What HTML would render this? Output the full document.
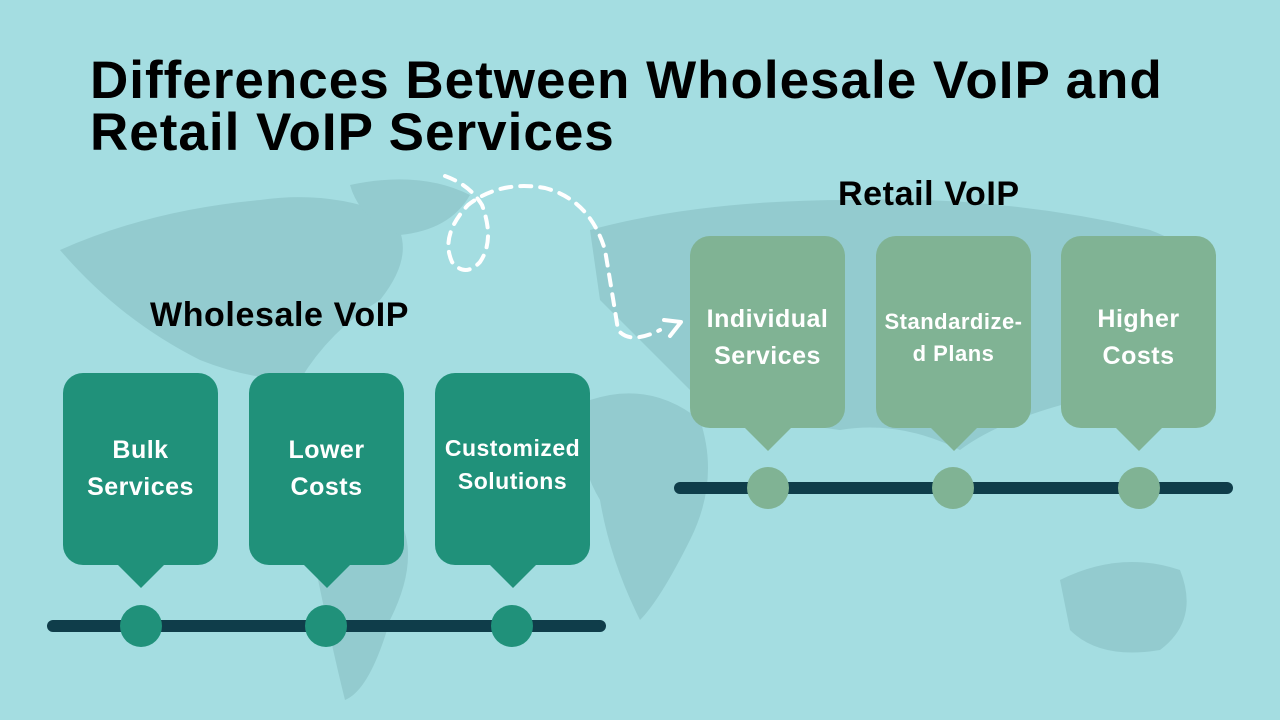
<!DOCTYPE html>
<html><head><meta charset="utf-8"><style>
*{margin:0;padding:0;box-sizing:border-box}
body{width:1280px;height:720px;overflow:hidden;background:#a4dde1;font-family:"Liberation Sans",sans-serif;position:relative}
.t{position:absolute;left:90px;font-weight:bold;font-size:53px;color:#000;letter-spacing:1px;line-height:52px;white-space:nowrap}
.lab{position:absolute;font-weight:bold;font-size:34px;color:#000;letter-spacing:0.6px;white-space:nowrap}
.box{position:absolute;width:155px;height:192px;border-radius:20px;color:#fff;font-weight:bold;display:flex;align-items:center;justify-content:center;text-align:center;font-size:25px;line-height:37px;letter-spacing:0.5px}
.box:after{content:"";position:absolute;left:50%;bottom:-23px;margin-left:-24px;border-left:24px solid transparent;border-right:24px solid transparent;border-top:24px solid currentColor}
.w{background:#20917a}.w:after{border-top-color:#20917a}
.r{background:#80b394}.r:after{border-top-color:#80b394}
.line{position:absolute;height:12px;border-radius:6px;background:#0f3d4a}
.c{position:absolute;width:42px;height:42px;border-radius:50%}
</style></head><body>
<svg width="1280" height="720" style="position:absolute;left:0;top:0">
<g fill="#8fc7cb" opacity="0.8">
<path d="M60 250 Q150 210 260 200 Q330 190 390 215 Q420 250 380 300 Q330 330 300 380 Q250 380 200 360 Q120 320 60 250Z"/>
<path d="M350 185 Q420 170 470 195 Q450 230 400 235 Q360 220 350 185Z"/>
<path d="M310 540 Q350 500 400 520 Q420 560 390 620 Q370 690 345 700 Q330 640 310 540Z"/>
<path d="M590 230 Q700 200 850 200 Q1000 195 1150 230 Q1230 260 1200 320 Q1150 380 1080 400 Q1000 420 960 450 Q900 420 840 430 Q760 420 700 400 Q640 340 600 300Z"/>
<path d="M590 400 Q650 380 700 420 Q720 480 690 540 Q660 600 640 620 Q610 560 600 500 Q570 450 590 400Z"/>
<path d="M1060 580 Q1120 550 1180 570 Q1200 620 1160 650 Q1100 660 1070 630Z"/>
</g>
<path d="M445 176 Q470 185 482 205 Q495 240 480 262 Q465 278 452 262 Q440 235 468 205 Q500 180 545 188 Q590 200 605 250 Q615 310 618 330 Q630 345 660 330" fill="none" stroke="#fff" stroke-width="4" stroke-dasharray="11 9" stroke-linecap="round"/>
<path d="M664 320 L681 322 L670 336" fill="none" stroke="#fff" stroke-width="4" stroke-linecap="round" stroke-linejoin="round"/>
</svg>
<div class="t" style="top:55px">Differences Between Wholesale VoIP and</div>
<div class="t" style="top:107px">Retail VoIP Services</div>
<div class="lab" style="left:150px;top:296px">Wholesale VoIP</div>
<div class="lab" style="left:838px;top:175px">Retail VoIP</div>

<div class="box w" style="left:63px;top:373px">Bulk<br>Services</div>
<div class="box w" style="left:249px;top:373px">Lower<br>Costs</div>
<div class="box w" style="left:435px;top:373px;font-size:23px;line-height:33px;padding-bottom:8px">Customized<br>Solutions</div>
<div class="line" style="left:47px;top:620px;width:559px"></div>
<div class="c" style="left:120px;top:605px;background:#20917a"></div>
<div class="c" style="left:305px;top:605px;background:#20917a"></div>
<div class="c" style="left:491px;top:605px;background:#20917a"></div>

<div class="box r" style="left:690px;top:236px;padding-top:12px">Individual<br>Services</div>
<div class="box r" style="left:876px;top:236px;font-size:22px;line-height:32px;padding-top:12px">Standardize-<br>d Plans</div>
<div class="box r" style="left:1061px;top:236px;padding-top:12px">Higher<br>Costs</div>
<div class="line" style="left:674px;top:482px;width:559px"></div>
<div class="c" style="left:747px;top:467px;background:#80b394"></div>
<div class="c" style="left:932px;top:467px;background:#80b394"></div>
<div class="c" style="left:1118px;top:467px;background:#80b394"></div>
</body></html>
